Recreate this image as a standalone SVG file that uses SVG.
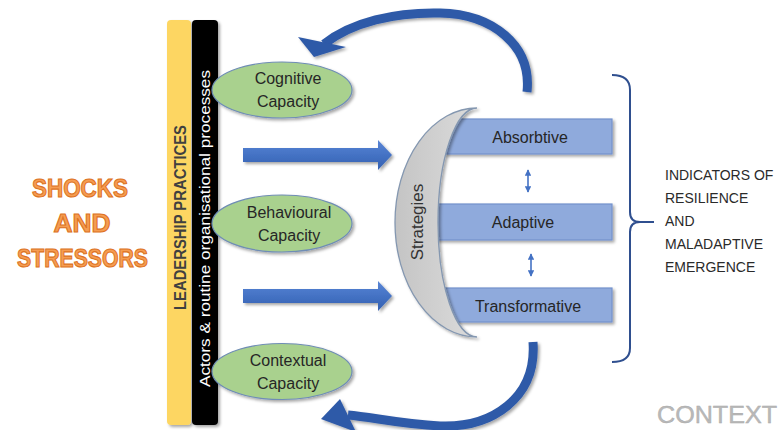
<svg xmlns="http://www.w3.org/2000/svg" width="782" height="430" viewBox="0 0 782 430">
<defs>
  <filter id="sh" x="-10%" y="-10%" width="130%" height="130%">
    <feDropShadow dx="2" dy="2" stdDeviation="1.5" flood-color="#000" flood-opacity="0.35"/>
  </filter>
  <linearGradient id="blk" x1="0" y1="0" x2="0" y2="1">
    <stop offset="0" stop-color="#5a86d6"/>
    <stop offset="0.5" stop-color="#4472c4"/>
    <stop offset="1" stop-color="#3561b0"/>
  </linearGradient>
  <linearGradient id="cres" x1="0" y1="0" x2="1" y2="0">
    <stop offset="0" stop-color="#c4c4c4"/>
    <stop offset="1" stop-color="#dcdcdc"/>
  </linearGradient>
  <marker id="ah" viewBox="0 0 10 10" refX="9" refY="5" markerWidth="4" markerHeight="4" orient="auto-start-reverse">
    <path d="M0,0 L10,5 L0,10 z" fill="#4472c4"/>
  </marker>
  <style>
    .lbl { font-family: "Liberation Sans", Arial, sans-serif; font-size: 16px; fill: #262626; text-anchor: middle; }
    .ell { fill: #a9d18e; stroke: #6f8db5; stroke-width: 1.2; }
    .box { fill: #8faadc; stroke: #7392cc; stroke-width: 1.2; }
    .ind { font-family: "Liberation Sans", Arial, sans-serif; font-size: 14px; fill: #2a2a2a; }
    .shock { font-family: "Liberation Sans", Arial, sans-serif; font-size: 26px; font-weight: bold; fill: #f59d52; stroke: #dd7222; stroke-width: 1.1; text-anchor: middle; }
    .curve { fill: none; stroke: #2f5aa8; stroke-width: 9; stroke-linecap: butt; }
    .dbl { stroke: #4472c4; stroke-width: 1.6; fill: none; }
  </style>
</defs>

<rect width="782" height="430" fill="#ffffff"/>

<g id="shocks">
  <text class="shock" x="80" y="197" textLength="96" lengthAdjust="spacingAndGlyphs">SHOCKS</text>
  <text class="shock" x="82" y="232" textLength="57" lengthAdjust="spacingAndGlyphs">AND</text>
  <text class="shock" x="82.5" y="267" textLength="131" lengthAdjust="spacingAndGlyphs">STRESSORS</text>
</g>

<g id="leadership">
  <rect x="167" y="20" width="24" height="405" rx="4" fill="#fdd662" filter="url(#sh)"/>
  <text transform="translate(186,217.5) rotate(-90)" x="0" y="0" text-anchor="middle" font-family="Liberation Sans, Arial, sans-serif" font-size="16" font-weight="bold" fill="#404040" textLength="185" lengthAdjust="spacingAndGlyphs">LEADERSHIP PRACTICES</text>
</g>

<g id="actors">
  <rect x="192" y="20" width="26" height="405" rx="4" fill="#050505" filter="url(#sh)"/>
  <text transform="translate(210,228.5) rotate(-90)" x="0" y="0" text-anchor="middle" font-family="Liberation Sans, Arial, sans-serif" font-size="15" fill="#ffffff" textLength="317" lengthAdjust="spacingAndGlyphs">Actors &amp; routine organisational processes</text>
</g>

<g id="cognitive">
  <ellipse class="ell" cx="282" cy="90" rx="70" ry="28" filter="url(#sh)"/>
  <text class="lbl" x="288" y="84">Cognitive</text>
  <text class="lbl" x="288" y="107">Capacity</text>
</g>

<g id="behavioural">
  <ellipse class="ell" cx="282" cy="223.5" rx="70" ry="28.5" filter="url(#sh)"/>
  <text class="lbl" x="289" y="218">Behavioural</text>
  <text class="lbl" x="289" y="241">Capacity</text>
</g>

<g id="contextual">
  <ellipse class="ell" cx="282" cy="371.5" rx="70" ry="28" filter="url(#sh)"/>
  <text class="lbl" x="288" y="366">Contextual</text>
  <text class="lbl" x="288" y="389">Capacity</text>
</g>

<g id="absorbtive">
  <rect class="box" x="445" y="119" width="167" height="35" filter="url(#sh)"/>
  <text class="lbl" x="530" y="143">Absorbtive</text>
</g>

<g id="adaptive">
  <rect class="box" x="420" y="204" width="192" height="36" filter="url(#sh)"/>
  <text class="lbl" x="523" y="228">Adaptive</text>
</g>

<g id="transformative">
  <rect class="box" x="440" y="288" width="172" height="34" filter="url(#sh)"/>
  <text class="lbl" x="528" y="312">Transformative</text>
</g>

<g id="strategies">
  <path d="M477,108 A82,114.5 0 0 0 477,337 A39,114.5 0 0 1 477,108 Z" fill="url(#cres)" stroke="#8497b0" stroke-width="1.3" filter="url(#sh)"/>
  <text transform="translate(423,222) rotate(-90)" x="0" y="0" text-anchor="middle" font-family="Liberation Sans, Arial, sans-serif" font-size="17" fill="#333333">Strategies</text>
</g>

<g id="indicators">
  <path d="M612,75 Q630,75 630,90 L630,212 Q630,222 640,222 Q630,222 630,232 L630,348 Q630,362 612,362" fill="none" stroke="#2f4f8f" stroke-width="2"/>
  <line x1="640" y1="222" x2="654" y2="222" stroke="#2f4f8f" stroke-width="2"/>
  <text class="ind" x="665" y="180">INDICATORS OF</text>
  <text class="ind" x="665" y="203">RESILIENCE</text>
  <text class="ind" x="665" y="226">AND</text>
  <text class="ind" x="665" y="249">MALADAPTIVE</text>
  <text class="ind" x="665" y="272">EMERGENCE</text>
</g>

<g id="context">
  <text x="717" y="423" text-anchor="middle" font-family="Liberation Sans, Arial, sans-serif" font-size="24" fill="#b9b9b9" stroke="#a8a8a8" stroke-width="0.4" textLength="120" lengthAdjust="spacingAndGlyphs">CONTEXT</text>
</g>

<g id="connectors">
  <path d="M243,148 L378,148 L378,140 L392,155 L378,170 L378,162 L243,162 Z" fill="url(#blk)" filter="url(#sh)"/>
  <path d="M243,289 L378,289 L378,281 L392,296 L378,311 L378,303 L243,303 Z" fill="url(#blk)" filter="url(#sh)"/>
  <line class="dbl" x1="528" y1="170" x2="528" y2="192" marker-start="url(#ah)" marker-end="url(#ah)"/>
  <line class="dbl" x1="531" y1="254" x2="531" y2="276" marker-start="url(#ah)" marker-end="url(#ah)"/>
  <g filter="url(#sh)">
    <path class="curve" d="M527,92 C532,45 492,14 440,13 C395,12 352,22 324,44"/>
    <polygon points="298,37 346,47 314,57" fill="#2f5aa8"/>
    <path class="curve" d="M533,342 C537,398 492,428 440,426 C400,424 372,417 348,415"/>
    <polygon points="321,419 340,399 356,432" fill="#2f5aa8"/>
  </g>
</g>
</svg>
